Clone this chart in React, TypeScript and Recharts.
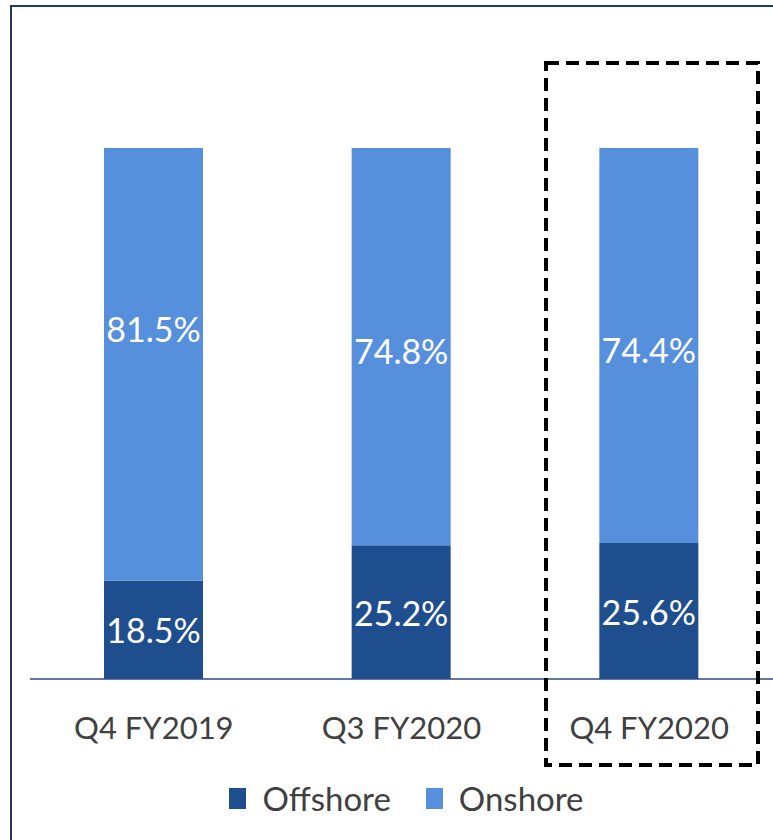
import React from "react";
import { BarChart, Bar, XAxis, YAxis, Legend, LabelList } from "recharts";

const categories = ["Q4 FY2019", "Q3 FY2020", "Q4 FY2020"];
const offshore = [18.5, 25.2, 25.6];
const onshore = [81.5, 74.8, 74.4];

const data = categories.map((c, i) => ({ name: c, Offshore: offshore[i], Onshore: onshore[i] }));

const OFF = "#1F4E8F";
const ON = "#5690DD";
const FONT = "Lato, 'Open Sans', sans-serif";
const onshoreNudge = [-36, 4, 4];

const makeLabel = (nudge: number[] | null) => (props: any) => {
  const { x, y, width, height, value, index } = props;
  const dy = nudge ? nudge[index] || 0 : 0;
  return (
    <text
      x={x + width / 2}
      y={y + height / 2 + dy}
      fill="#FFFFFF"
      fontSize={34}
      fontFamily={FONT}
      textAnchor="middle"
      dominantBaseline="central"
    >
      {`${value.toFixed(1)}%`}
    </text>
  );
};

const Tick = (props: any) => {
  const { x, y, payload } = props;
  return (
    <text x={x} y={y + 40} fill="#404040" fontSize={31} fontFamily={FONT} textAnchor="middle" dominantBaseline="central">
      {payload.value}
    </text>
  );
};

const LegendContent = () => (
  <div style={{ display: "flex", justifyContent: "center", alignItems: "center", fontFamily: FONT, fontSize: 33, color: "#404040", paddingLeft: 10 }}>
    {[
      { n: "Offshore", c: OFF },
      { n: "Onshore", c: ON },
    ].map((it, i) => (
      <div key={it.n} style={{ display: "flex", alignItems: "center", marginLeft: i ? 35 : 0 }}>
        <span style={{ display: "inline-block", width: 17, height: 21, background: it.c, marginRight: 16 }} />
        <span>{it.n}</span>
      </div>
    ))}
  </div>
);

export default function App() {
  return (
    <div style={{ position: "absolute", left: 0, top: 0, width: 773, height: 840, overflow: "hidden", background: "#fff" }}>
      <div style={{ position: "absolute", left: 10, top: 5, width: 900, height: 1000, borderLeft: "2.5px solid #1F3864", borderTop: "2.5px solid #1F3864" }} />
      <div style={{ position: "absolute", left: 0, top: 0 }}>
        <BarChart width={773} height={840} data={data} margin={{ top: 148, right: 0, left: 30, bottom: 12 }} barSize={99}>
          <YAxis hide domain={[0, 100]} />
          <XAxis dataKey="name" height={99} tickLine={false} axisLine={{ stroke: "#2E4C7E", strokeWidth: 1.5 }} tick={<Tick />} interval={0} />
          <Legend verticalAlign="bottom" height={50} content={<LegendContent />} />
          <Bar dataKey="Offshore" stackId="a" fill={OFF} isAnimationActive={false}>
            <LabelList dataKey="Offshore" content={makeLabel(null)} />
          </Bar>
          <Bar dataKey="Onshore" stackId="a" fill={ON} isAnimationActive={false}>
            <LabelList dataKey="Onshore" content={makeLabel(onshoreNudge)} />
          </Bar>
        </BarChart>
      </div>
      <svg width={773} height={840} style={{ position: "absolute", left: 0, top: 0, pointerEvents: "none" }}>
        <rect x={546} y={63} width={212} height={702} fill="none" stroke="#000" strokeWidth={4} strokeDasharray="13 7" />
      </svg>
    </div>
  );
}
